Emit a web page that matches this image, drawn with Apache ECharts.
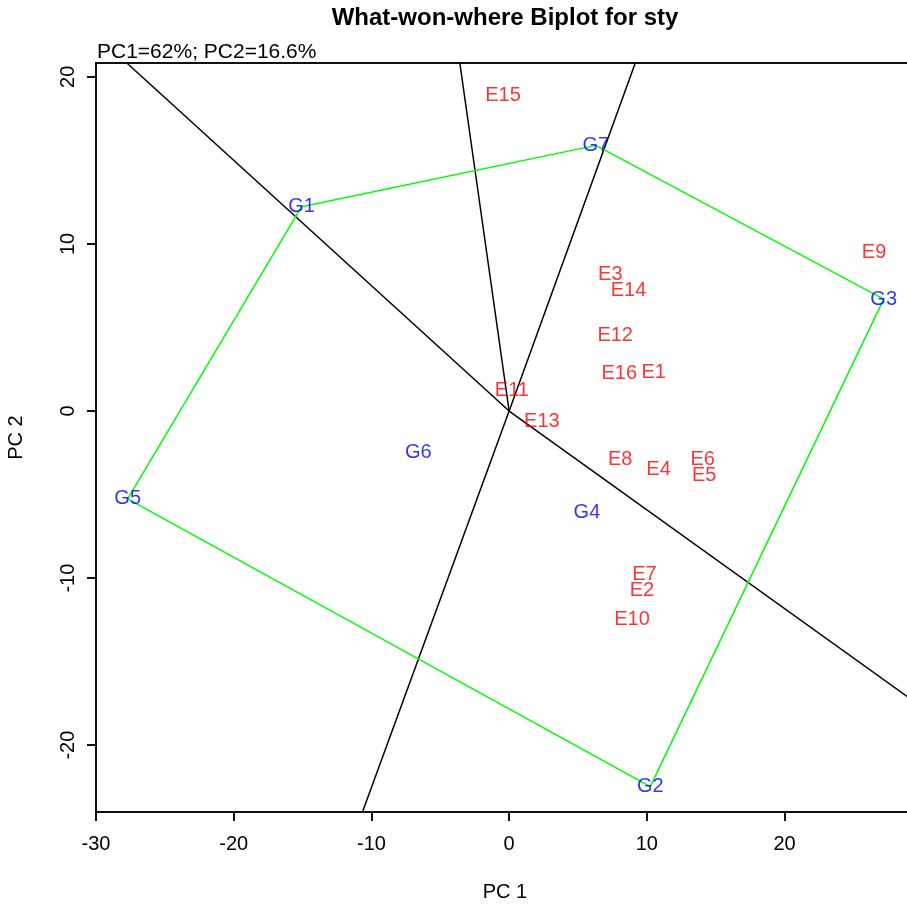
<!DOCTYPE html>
<html>
<head>
<meta charset="utf-8">
<script src="https://cdn.jsdelivr.net/npm/echarts@6/dist/echarts.min.js"></script>
<style>
  html, body { margin: 0; padding: 0; background: #fff; }
  #chart { width: 907px; height: 906px; }
</style>
</head>
<body>
<div id="chart"></div>
<script>
// environments (red labels)
const envNames = ['E1', 'E2', 'E3', 'E4', 'E5', 'E6', 'E7', 'E8', 'E9', 'E10', 'E11', 'E12', 'E13', 'E14', 'E15', 'E16']
const envPC1 = [10.5, 9.64, 7.35, 10.85, 14.16, 14.05, 9.83, 8.07, 26.5, 8.92, 0.2, 7.7, 2.38, 8.67, -0.44, 8.0]
const envPC2 = [2.3, -10.77, 8.2, -3.52, -3.88, -2.93, -9.81, -2.89, 9.5, -12.5, 1.22, 4.55, -0.63, 7.2, 18.9, 2.26]

// genotypes (blue labels)
const genoNames = ['G1', 'G2', 'G3', 'G4', 'G5', 'G6', 'G7']
const genoPC1 = [-15.07, 10.25, 27.2, 5.65, -27.7, -6.6, 6.3]
const genoPC2 = [12.23, -22.48, 6.7, -6.08, -5.26, -2.47, 15.9]

// convex hull of the genotypes, in drawing order
const hullOrder = ['G1', 'G7', 'G3', 'G2', 'G5', 'G1']

// rays from the origin, perpendicular to the hull sides (end points)
const rayEndPC1 = [-27.76, -3.58, 9.16, -10.65, 29.4]
const rayEndPC2 = [20.83, 20.83, 20.83, -24, -17.38]

const xTicks = [-30, -20, -10, 0, 10, 20]
const yTicks = [-20, -10, 0, 10, 20]

const font = 'Liberation Sans, Arial, sans-serif'

const chart = echarts.init(document.getElementById('chart'))

const hullData = hullOrder.map(n => {
  const i = genoNames.indexOf(n)
  return [genoPC1[i], genoPC2[i]]
})

const raySeries = rayEndPC1.map((x, i) => ({
  type: 'line',
  data: [[0, 0], [x, rayEndPC2[i]]],
  showSymbol: false,
  silent: true,
  lineStyle: { color: '#000', width: 1.5 },
  z: 2,
}))

function labelSeries(names, xs, ys, color) {
  return {
    type: 'scatter',
    data: names.map((n, i) => ({ value: [xs[i], ys[i]], name: n })),
    symbolSize: 1,
    itemStyle: { color: 'rgba(0,0,0,0)' },
    silent: true,
    label: {
      show: true,
      position: 'inside',
      formatter: p => p.name,
      color: color,
      textBorderWidth: 0,
      fontSize: 20,
      fontFamily: font,
    },
    labelLayout: { hideOverlap: false },
    z: 5,
  }
}

chart.setOption({
  animation: false,
  grid: {
    left: 96,
    right: -7,
    top: 63,
    bottom: 94,
    show: true,
    borderColor: '#111',
    borderWidth: 2,
    outerBoundsMode: 'none',
    containLabel: false,
  },
  graphic: [
    {
      type: 'text',
      x: 505,
      y: 18,
      style: {
        text: 'What-won-where Biplot for sty',
        textAlign: 'center',
        textVerticalAlign: 'middle',
        fontSize: 24,
        fontWeight: 'bold',
        fontFamily: font,
        fill: '#000',
      },
    },
    {
      type: 'text',
      x: 97,
      y: 52,
      style: {
        text: 'PC1=62%; PC2=16.6%',
        textAlign: 'left',
        textVerticalAlign: 'middle',
        fontSize: 21,
        fontFamily: font,
        fill: '#000',
      },
    },
  ],
  xAxis: {
    type: 'value',
    min: -30,
    max: 29.4,
    name: 'PC 1',
    nameLocation: 'middle',
    nameGap: 70,
    nameTextStyle: { fontSize: 20, fontFamily: font, color: '#000' },
    splitLine: { show: false },
    axisLine: { show: false, onZero: false },
    axisTick: { show: true, length: 9, customValues: xTicks, lineStyle: { color: '#111', width: 2 } },
    axisLabel: { customValues: xTicks, margin: 22, fontSize: 20, fontFamily: font, color: '#000' },
  },
  yAxis: {
    type: 'value',
    min: -24,
    max: 20.83,
    name: 'PC 2',
    nameLocation: 'middle',
    nameGap: 70,
    nameTextStyle: { fontSize: 20, fontFamily: font, color: '#000' },
    splitLine: { show: false },
    axisLine: { show: false, onZero: false },
    axisTick: { show: true, length: 9, customValues: yTicks, lineStyle: { color: '#111', width: 2 } },
    axisLabel: { customValues: yTicks, rotate: 90, margin: 18, fontSize: 20, fontFamily: font, color: '#000' },
  },
  series: [
    ...raySeries,
    {
      type: 'line',
      data: hullData,
      showSymbol: false,
      silent: true,
      lineStyle: { color: '#00ff00', width: 1.5 },
      z: 3,
    },
    labelSeries(envNames, envPC1, envPC2, '#ff0000'),
    labelSeries(genoNames, genoPC1, genoPC2, '#0000ff'),
  ],
})
</script>
</body>
</html>
